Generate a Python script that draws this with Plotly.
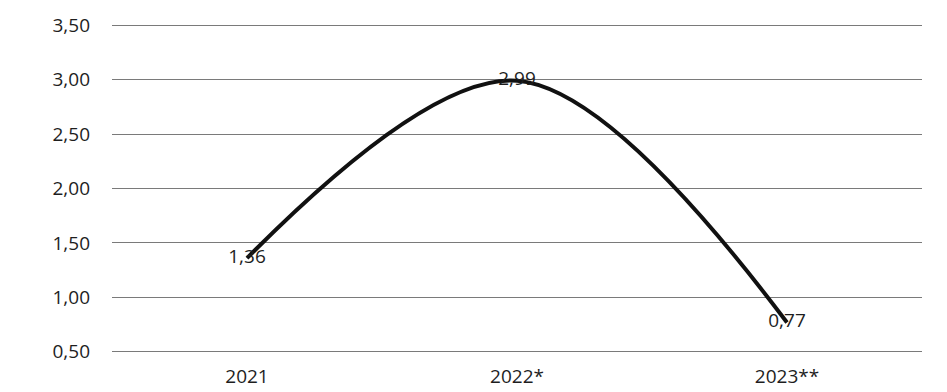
import plotly.graph_objects as go

# Yearly values (2022 and 2023 marked as preliminary / forecast)
years = ["2021", "2022*", "2023**"]
values = [1.36, 2.99, 0.77]
y_ticks = [0.5, 1.0, 1.5, 2.0, 2.5, 3.0, 3.5]

FONT = "Open Sans, Liberation Sans, sans-serif"

fig = go.Figure()
fig.add_trace(go.Scatter(
    x=years,
    y=values,
    mode="lines+text",
    line=dict(color="#111111", width=4, shape="spline", smoothing=1.0),
    text=[f"{v:.2f}".replace(".", ",") for v in values],
    textposition="middle center",
    textfont=dict(family=FONT, size=19, color="#1e1e1e"),
    cliponaxis=False,
    showlegend=False,
))

fig.update_layout(
    width=947,
    height=392,
    margin=dict(l=112, r=25, t=23, b=38, autoexpand=False),
    paper_bgcolor="white",
    plot_bgcolor="white",
    separators=",.",
    font=dict(family=FONT, size=19, color="#1e1e1e"),
)
fig.update_xaxes(
    type="category",
    range=[-0.5, 2.5],
    showgrid=False,
    zeroline=False,
    showline=False,
    ticks="",
    automargin=False,
    ticklabelstandoff=9,
)
fig.update_yaxes(
    range=[0.48, 3.52],
    tickvals=y_ticks,
    tickformat=".2f",
    showgrid=True,
    gridcolor="#7a7a7a",
    gridwidth=1,
    zeroline=False,
    showline=False,
    ticks="",
    automargin=False,
    ticklabelstandoff=21,
)

fig.write_html("out.html")
